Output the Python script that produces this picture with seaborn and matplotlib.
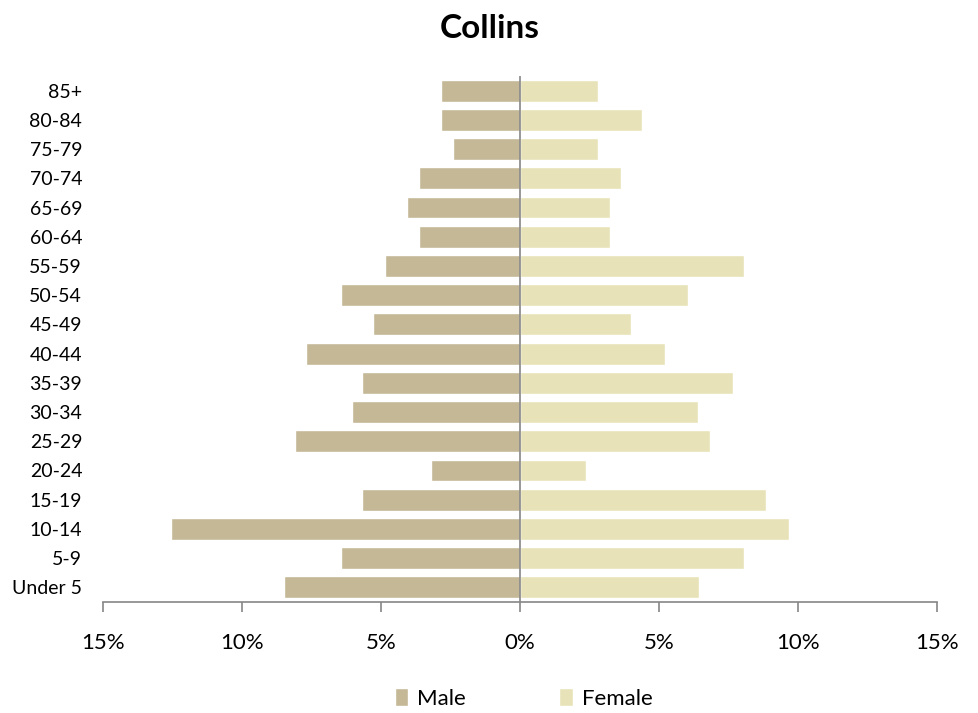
import matplotlib
matplotlib.use("Agg")
import matplotlib.pyplot as plt
import seaborn as sns
import pandas as pd
from matplotlib.patches import Patch

ages = ["85+", "80-84", "75-79", "70-74", "65-69", "60-64", "55-59", "50-54",
        "45-49", "40-44", "35-39", "30-34", "25-29", "20-24", "15-19", "10-14",
        "5-9", "Under 5"]
male = [2.84, 2.84, 2.41, 3.63, 4.05, 3.63, 4.86, 6.45, 5.29, 7.70, 5.68,
        6.04, 8.09, 3.20, 5.68, 12.55, 6.45, 8.49]
female = [2.81, 4.39, 2.81, 3.65, 3.24, 3.24, 8.06, 6.04, 4.00, 5.20, 7.66,
          6.40, 6.83, 2.37, 8.85, 9.68, 8.06, 6.45]
xticks = [-15, -10, -5, 0, 5, 10, 15]

male_color = "#C4B896"
female_color = "#E8E2B8"

sns.set_theme(style="white")
plt.rcParams["font.family"] = ["Lato", "DejaVu Sans"]
plt.rcParams["text.color"] = "black"
plt.rcParams["xtick.color"] = "black"
plt.rcParams["ytick.color"] = "black"

df = pd.DataFrame({
    "age": ages + ages,
    "value": [-m for m in male] + female,
    "sex": ["Male"] * len(ages) + ["Female"] * len(ages),
})

fig = plt.figure(figsize=(9.79, 7.13), dpi=100)
ax = fig.add_axes([0.1052, 0.1557, 0.8519, 0.7377])

sns.barplot(data=df, y="age", x="value", hue="sex", order=ages,
            hue_order=["Male", "Female"], dodge=False, orient="h",
            palette={"Male": male_color, "Female": female_color},
            width=0.75, saturation=1, legend=False, ax=ax)

ax.set_xlim(-15, 15)
ax.set_ylim(len(ages) - 0.5, -0.5)
ax.set_xticks(xticks)
ax.set_xticklabels([f"{abs(v)}%" for v in xticks], fontsize=16)
ax.tick_params(axis="x", direction="out", length=7, width=1.2, color="#868686",
               pad=15, bottom=True, labelcolor="black")
ax.tick_params(axis="y", length=0, pad=15, labelsize=14, labelcolor="black")
for lbl in ax.get_yticklabels():
    lbl.set_horizontalalignment("right")
ax.set_xlabel("")
ax.set_ylabel("")

for s in ["top", "right", "left"]:
    ax.spines[s].set_visible(False)
ax.spines["bottom"].set_color("#868686")
ax.spines["bottom"].set_linewidth(1.2)
ax.axvline(0, color="#868686", lw=1.2, zorder=5)

fig.suptitle("Collins", fontsize=24, fontweight="bold", y=0.98, color="black")

handles = [Patch(facecolor=male_color, label="Male"),
           Patch(facecolor=female_color, label="Female")]
fig.legend(handles=handles, loc="lower center", bbox_to_anchor=(0.535, -0.022),
           ncol=2, frameon=False, fontsize=16, handlelength=0.6,
           handleheight=0.9, handletextpad=0.4, columnspacing=4.2)

fig.savefig("out.png", dpi=100)
